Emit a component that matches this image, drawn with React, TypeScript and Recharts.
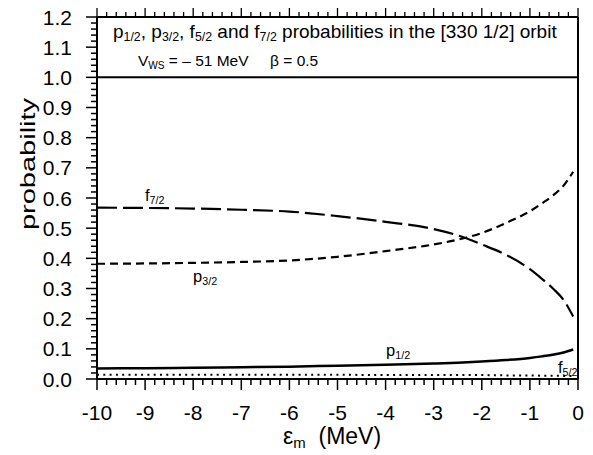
import React from 'react';
import { LineChart, Line, XAxis, YAxis, ReferenceLine } from 'recharts';

const energies = [-10, -9, -8, -7, -6, -5, -4, -3, -2.5, -2, -1.5, -1, -0.75, -0.5, -0.3, -0.1];
const p12 = [0.035, 0.036, 0.037, 0.039, 0.041, 0.044, 0.047, 0.051, 0.054, 0.058, 0.063, 0.07, 0.075, 0.081, 0.088, 0.098];
const p32 = [0.382, 0.383, 0.385, 0.388, 0.393, 0.405, 0.424, 0.446, 0.462, 0.484, 0.517, 0.556, 0.582, 0.611, 0.641, 0.687];
const f52 = [0.014, 0.014, 0.014, 0.014, 0.014, 0.014, 0.013, 0.013, 0.013, 0.013, 0.012, 0.012, 0.011, 0.011, 0.01, 0.01];
const f72 = [0.568, 0.567, 0.565, 0.561, 0.555, 0.54, 0.521, 0.497, 0.476, 0.446, 0.412, 0.364, 0.332, 0.297, 0.262, 0.207];

// tick positions: majors get labels, the rest are minor marks
const xTicks = Array.from({ length: 51 }, (_, i) => -10 + i * 0.2);
const yTicks = Array.from({ length: 61 }, (_, i) => i * 0.02);

const data = energies.map((e, i) => ({ e, p12: p12[i], p32: p32[i], f52: f52[i], f72: f72[i] }));

const W = 593;
const H = 455;
const font = '"Liberation Sans", Arial, sans-serif';
const ax = { stroke: '#000', strokeWidth: 2 };

const isMajorX = (v: number) => Math.abs(v - Math.round(v)) < 1e-6;
const isMajorY = (v: number) => Math.abs(v * 10 - Math.round(v * 10)) < 1e-6;

function BottomTick({ x, y, payload }: any) {
  const major = isMajorX(payload.value);
  return (
    <g>
      <line x1={x} y1={y} x2={x} y2={y + (major ? 11 : 6)} stroke="#000" strokeWidth={1.5} />
      {major && (
        <text x={x} y={y + 41} textAnchor="middle" fontSize={21} fontFamily={font} fill="#000">
          {Math.round(payload.value)}
        </text>
      )}
    </g>
  );
}

function TopTick({ x, y, payload }: any) {
  const major = isMajorX(payload.value);
  return <line x1={x} y1={y} x2={x} y2={y - (major ? 9 : 5)} stroke="#000" strokeWidth={1.3} />;
}

function LeftTick({ x, y, payload }: any) {
  const major = isMajorY(payload.value);
  return (
    <g>
      <line x1={x} y1={y} x2={x - (major ? 11 : 6)} y2={y} stroke="#000" strokeWidth={1.5} />
      {major && (
        <text x={x - 25} y={y + 7.5} textAnchor="end" fontSize={21} fontFamily={font} fill="#000">
          {payload.value.toFixed(1)}
        </text>
      )}
    </g>
  );
}

function RightTick({ x, y, payload }: any) {
  const major = isMajorY(payload.value);
  return <line x1={x} y1={y} x2={x + (major ? 11 : 7)} y2={y} stroke="#000" strokeWidth={1.5} />;
}

const Sub = ({ children }: { children: React.ReactNode }) => (
  <sub style={{ fontSize: '0.65em', verticalAlign: '-0.25em' }}>{children}</sub>
);

function Label({ x, y, size = 16.5, children }: { x: number; y: number; size?: number; children: React.ReactNode }) {
  return (
    <div style={{ position: 'absolute', left: x, top: y, fontSize: size, fontFamily: font, lineHeight: 1, whiteSpace: 'nowrap', color: '#000' }}>
      {children}
    </div>
  );
}

export default function App() {
  return (
    <div style={{ position: 'fixed', left: 0, top: 0, width: W, height: H, background: '#fff' }}>
      <LineChart width={W} height={H} data={data} margin={{ top: 7, right: 5, bottom: 46, left: 37 }}>
        <XAxis xAxisId="main" dataKey="e" type="number" domain={[-10, 0]} ticks={xTicks} interval={0} tick={(p: any) => <BottomTick {...p} />} tickSize={0} tickMargin={0} tickLine={false} axisLine={ax} height={30} />
        <XAxis xAxisId="top" orientation="top" dataKey="e" type="number" domain={[-10, 0]} ticks={xTicks} interval={0} tick={(p: any) => <TopTick {...p} />} tickSize={0} tickMargin={0} tickLine={false} axisLine={ax} height={10} />
        <YAxis yAxisId="main" type="number" domain={[0, 1.2]} ticks={yTicks} interval={0} tick={(p: any) => <LeftTick {...p} />} tickSize={0} tickMargin={0} tickLine={false} axisLine={ax} width={60} />
        <YAxis yAxisId="right" orientation="right" type="number" domain={[0, 1.2]} ticks={yTicks} interval={0} tick={(p: any) => <RightTick {...p} />} tickSize={0} tickMargin={0} tickLine={false} axisLine={ax} width={10} />
        <ReferenceLine xAxisId="main" yAxisId="main" y={1} stroke="#000" strokeWidth={2} />
        <Line xAxisId="main" yAxisId="main" dataKey="p12" type="monotone" stroke="#000" strokeWidth={2.5} dot={false} isAnimationActive={false} />
        <Line xAxisId="main" yAxisId="main" dataKey="p32" type="monotone" stroke="#000" strokeWidth={2.2} strokeDasharray="8 5" dot={false} isAnimationActive={false} />
        <Line xAxisId="main" yAxisId="main" dataKey="f52" type="monotone" stroke="#000" strokeWidth={2} strokeDasharray="2 4.3" dot={false} isAnimationActive={false} />
        <Line xAxisId="main" yAxisId="main" dataKey="f72" type="monotone" stroke="#000" strokeWidth={2.2} strokeDasharray="20 6" dot={false} isAnimationActive={false} />
      </LineChart>

      <Label x={113} y={22} size={19}>
        p<Sub>1/2</Sub>, p<Sub>3/2</Sub>, f<Sub>5/2</Sub> and f<Sub>7/2</Sub> probabilities in the [330 1/2] orbit
      </Label>
      <Label x={138} y={53} size={15.5}>
        V<Sub>WS</Sub> = – 51 MeV &nbsp;&nbsp;&nbsp;&nbsp;β = 0.5
      </Label>

      <Label x={145} y={187}>f<Sub>7/2</Sub></Label>
      <Label x={193} y={268}>p<Sub>3/2</Sub></Label>
      <Label x={386} y={342}>p<Sub>1/2</Sub></Label>
      <Label x={558} y={359}>f<Sub>5/2</Sub></Label>

      <Label x={283} y={425} size={23}>
        ε<Sub>m</Sub>&nbsp; (MeV)
      </Label>
      <div style={{ position: 'absolute', left: 28, top: 164, transform: 'translate(-50%, -50%) rotate(-90deg) scaleX(1.45)', fontSize: 20, fontFamily: font, whiteSpace: 'nowrap' }}>
        probability
      </div>
    </div>
  );
}
